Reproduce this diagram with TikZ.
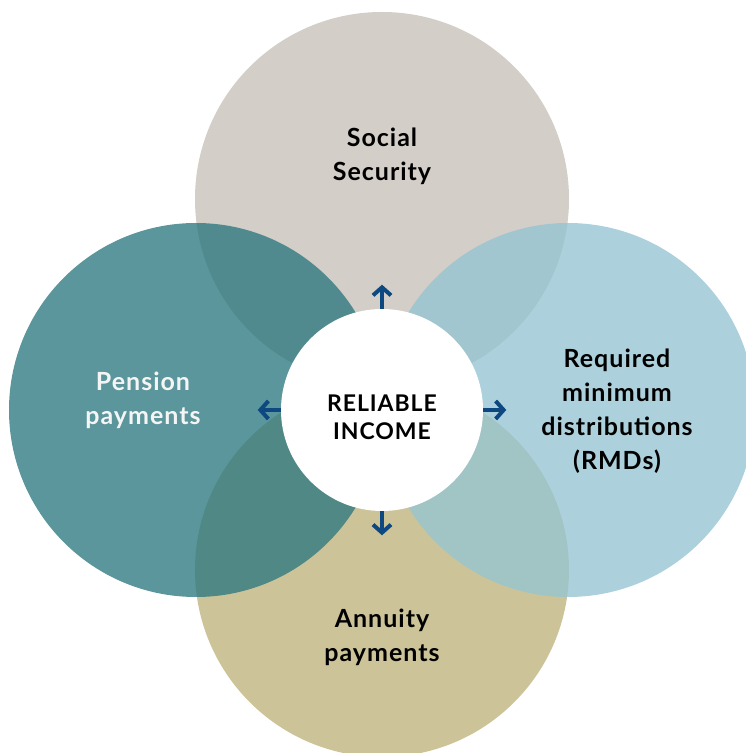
\documentclass[tikz,border=0pt]{standalone}
\usepackage{fontspec}
\setmainfont{Lato}[LetterSpace=4]
\usetikzlibrary{arrows.meta}

\definecolor{sstan}{RGB}{211,206,199}
\definecolor{penteal}{RGB}{44,120,127}
\definecolor{rmdblue}{RGB}{149,196,210}
\definecolor{annkhaki}{RGB}{204,196,152}
\definecolor{arrblue}{RGB}{14,72,128}

\begin{document}
\begin{tikzpicture}[x=1pt,y=1pt,
                    >={Straight Barb[length=8pt,width=18pt,line width=4pt]},
                    semithick]
  \tikzstyle{every node}=[font=\bfseries\fontsize{25}{34}\selectfont,align=center]
  \tikzstyle{big}=[circle,draw=none,minimum size=374pt,inner sep=0pt]
  \tikzstyle{link}=[->,draw=arrblue,line width=4pt]

  \useasboundingbox (0,0) rectangle (745,753);

  \node[big,fill=sstan]    (ss)  at (382,554) {};
  \node[big,fill=annkhaki] (ann) at (382,183) {};
  \node[big,fill=penteal,fill opacity=0.78]  (pen) at (196,343) {};
  \node[big,fill=rmdblue,fill opacity=0.78]  (rmd) at (568,343) {};
  \node[circle,fill=white,minimum size=202pt,inner sep=0pt] (inc) at (382,343) {};

  \node (sstxt)  at ([yshift=43pt]ss)  {Social\\Security};
  \node (anntxt) at ([yshift=-67pt]ann) {Annuity\\payments};
  \node[text=white!96!black] (pentxt) at ([xshift=-53pt,yshift=10pt]pen) {Pension\\payments};
  \node (rmdtxt) at ([xshift=49pt,yshift=-1pt]rmd) {Required\\minimum\\distributions\\(RMDs)};
  \node[font=\bfseries\fontsize{23}{28}\selectfont] (inctxt) at ([yshift=-7pt]inc) {RELIABLE\\INCOME};

  \coordinate (up)    at ([yshift=24pt]inc.north);
  \coordinate (down)  at ([yshift=-24pt]inc.south);
  \coordinate (left)  at ([xshift=-23pt]inc.west);
  \coordinate (right) at ([xshift=23pt]inc.east);

  \draw[link] (inc.north) -- (up);
  \draw[link] (inc.south) -- (down);
  \draw[link] (inc.west)  -- (left);
  \draw[link] (inc.east)  -- (right);
\end{tikzpicture}
\end{document}
